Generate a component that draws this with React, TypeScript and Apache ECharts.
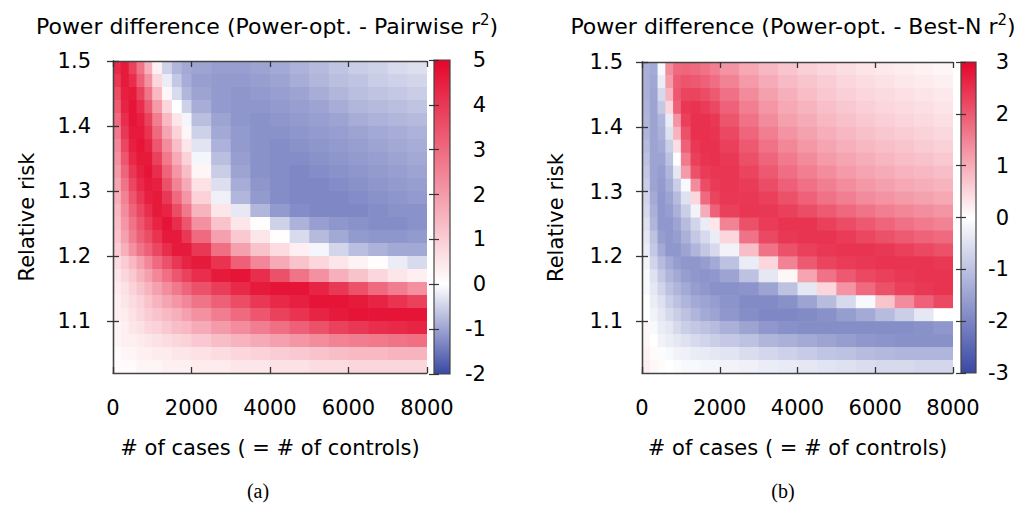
import React, { useEffect, useRef } from "react";
import * as echarts from "echarts";

const FONT = "DejaVu Sans";

// bin edges of the number of cases (x) and of the relative risk (y, top to bottom)
const xEdges = [0, 200, 400, 600, 800, 1000, 1250, 1500, 1750, 2000, 2500, 3000, 3500, 4000, 4500, 5000, 5500, 6000, 6500, 7000, 7500, 8000];
const rrEdges = [1.5, 1.48, 1.46, 1.44, 1.42, 1.4, 1.38, 1.36, 1.34, 1.32, 1.3, 1.28, 1.26, 1.24, 1.22, 1.2, 1.18, 1.16, 1.14, 1.12, 1.1, 1.08, 1.06, 1.04, 1.02];

const yTickValues = [1.1, 1.2, 1.3, 1.4, 1.5];
const cbTicksA = [-2, -1, 0, 1, 2, 3, 4, 5];
const cbTicksB = [-3, -2, -1, 0, 1, 2, 3];

const titleA = "Power difference (Power-opt. - Pairwise r{sup|2})";
const titleB = "Power difference (Power-opt. - Best-N r{sup|2})";
const xName = "# of cases ( = # of controls)";
const yName = "Relative risk";

// (a) Power-opt. - Pairwise r^2, rows from RR 1.49 (top) to 1.03 (bottom)
const diffA = [
  [4.3, 4.6, 3.8, 2.8, 1.6, 0.3, -0.5, -0.8, -0.95, -1.0, -1.05, -1.05, -1.0, -0.95, -0.85, -0.75, -0.65, -0.55, -0.5, -0.4, -0.35],
  [4.0, 4.6, 4.2, 3.2, 2.2, 0.8, -0.2, -0.6, -0.9, -1.05, -1.1, -1.1, -1.05, -1.0, -0.9, -0.8, -0.7, -0.65, -0.55, -0.5, -0.45],
  [3.6, 4.5, 4.6, 3.8, 2.8, 1.4, 0.2, -0.4, -0.8, -1.0, -1.1, -1.15, -1.1, -1.05, -1.0, -0.9, -0.8, -0.7, -0.65, -0.6, -0.55],
  [3.3, 4.4, 4.7, 4.2, 3.3, 2.0, 0.8, 0.0, -0.5, -0.9, -1.1, -1.15, -1.15, -1.1, -1.05, -1.0, -0.9, -0.8, -0.75, -0.7, -0.65],
  [3.0, 4.2, 4.7, 4.5, 3.8, 2.6, 1.4, 0.5, -0.1, -0.7, -1.0, -1.15, -1.2, -1.15, -1.1, -1.05, -1.0, -0.9, -0.85, -0.8, -0.75],
  [2.7, 4.0, 4.6, 4.6, 4.1, 3.0, 1.8, 0.9, 0.2, -0.5, -0.95, -1.1, -1.2, -1.2, -1.15, -1.1, -1.05, -1.0, -0.95, -0.9, -0.85],
  [2.4, 3.7, 4.5, 4.7, 4.4, 3.4, 2.3, 1.3, 0.5, -0.3, -0.85, -1.1, -1.2, -1.25, -1.2, -1.15, -1.1, -1.05, -1.0, -0.95, -0.9],
  [2.2, 3.4, 4.3, 4.6, 4.6, 3.8, 2.7, 1.7, 0.9, -0.1, -0.7, -1.05, -1.2, -1.25, -1.25, -1.2, -1.15, -1.1, -1.05, -1.0, -0.95],
  [2.0, 3.1, 4.0, 4.5, 4.7, 4.2, 3.1, 2.1, 1.3, 0.2, -0.55, -1.0, -1.2, -1.25, -1.3, -1.25, -1.2, -1.15, -1.1, -1.05, -1.0],
  [1.8, 2.8, 3.7, 4.3, 4.6, 4.5, 3.5, 2.5, 1.7, 0.6, -0.35, -0.9, -1.15, -1.25, -1.3, -1.3, -1.25, -1.2, -1.15, -1.1, -1.05],
  [1.6, 2.5, 3.4, 4.0, 4.5, 4.6, 4.0, 3.0, 2.1, 0.9, -0.15, -0.8, -1.1, -1.25, -1.3, -1.3, -1.3, -1.25, -1.2, -1.15, -1.1],
  [1.4, 2.3, 3.1, 3.7, 4.2, 4.6, 4.4, 3.6, 2.7, 1.5, 0.5, -0.25, -0.8, -1.1, -1.25, -1.3, -1.3, -1.3, -1.25, -1.2, -1.2],
  [1.3, 2.1, 2.8, 3.4, 3.9, 4.4, 4.7, 4.2, 3.4, 2.2, 1.2, 0.5, 0.05, -0.5, -0.85, -1.05, -1.15, -1.2, -1.25, -1.25, -1.2],
  [1.2, 1.9, 2.6, 3.2, 3.6, 4.1, 4.6, 4.6, 4.0, 3.0, 1.9, 1.1, 0.5, 0.05, -0.4, -0.75, -0.95, -1.1, -1.15, -1.15, -1.1],
  [1.0, 1.6, 2.2, 2.8, 3.2, 3.7, 4.2, 4.6, 4.6, 4.0, 2.9, 1.9, 1.2, 0.7, 0.3, -0.1, -0.45, -0.7, -0.85, -0.95, -0.95],
  [0.7, 1.0, 1.4, 1.9, 2.4, 3.0, 3.5, 4.0, 4.4, 4.6, 4.1, 3.2, 2.4, 1.7, 1.2, 0.8, 0.5, 0.25, 0.05, -0.2, -0.4],
  [0.5, 0.8, 1.1, 1.5, 1.9, 2.4, 2.9, 3.4, 3.8, 4.2, 4.6, 4.7, 4.2, 3.5, 2.8, 2.2, 1.6, 1.2, 0.8, 0.5, 0.3],
  [0.4, 0.6, 0.9, 1.2, 1.5, 1.9, 2.3, 2.7, 3.1, 3.5, 3.9, 4.3, 4.6, 4.7, 4.7, 4.4, 4.0, 3.5, 3.0, 2.6, 2.2],
  [0.3, 0.5, 0.7, 0.9, 1.2, 1.5, 1.8, 2.1, 2.4, 2.8, 3.2, 3.6, 4.0, 4.3, 4.5, 4.7, 4.7, 4.6, 4.4, 4.1, 3.8],
  [0.3, 0.4, 0.6, 0.8, 1.0, 1.2, 1.4, 1.6, 1.9, 2.2, 2.6, 3.0, 3.4, 3.8, 4.1, 4.4, 4.6, 4.7, 4.7, 4.7, 4.7],
  [0.2, 0.3, 0.5, 0.6, 0.8, 0.9, 1.1, 1.3, 1.4, 1.7, 2.0, 2.3, 2.6, 2.9, 3.2, 3.5, 3.8, 4.0, 4.2, 4.3, 4.4],
  [0.2, 0.3, 0.3, 0.4, 0.5, 0.6, 0.7, 0.8, 0.9, 1.1, 1.3, 1.5, 1.7, 1.9, 2.1, 2.3, 2.5, 2.6, 2.7, 2.8, 2.9],
  [0.1, 0.2, 0.2, 0.3, 0.3, 0.4, 0.4, 0.5, 0.5, 0.6, 0.7, 0.8, 0.9, 1.0, 1.1, 1.2, 1.3, 1.4, 1.4, 1.5, 1.5],
  [0.1, 0.1, 0.1, 0.2, 0.2, 0.2, 0.3, 0.3, 0.3, 0.4, 0.4, 0.5, 0.5, 0.6, 0.6, 0.7, 0.7, 0.8, 0.8, 0.8, 0.8],
];

// (b) Power-opt. - Best-N r^2, rows from RR 1.49 (top) to 1.03 (bottom)
const diffB = [
  [-1.3, -1.4, -0.1, 1.4, 1.8, 1.85, 1.8, 1.7, 1.55, 1.3, 1.05, 0.85, 0.7, 0.58, 0.48, 0.4, 0.33, 0.27, 0.22, 0.17, 0.12],
  [-1.3, -1.45, -0.3, 1.2, 1.95, 2.05, 2.0, 1.9, 1.75, 1.5, 1.22, 1.0, 0.83, 0.7, 0.6, 0.5, 0.42, 0.35, 0.29, 0.24, 0.19],
  [-1.3, -1.5, -0.6, 0.9, 2.0, 2.25, 2.25, 2.15, 2.0, 1.72, 1.4, 1.15, 0.95, 0.8, 0.68, 0.58, 0.5, 0.43, 0.37, 0.31, 0.26],
  [-1.25, -1.5, -0.9, 0.5, 1.9, 2.4, 2.45, 2.35, 2.2, 1.9, 1.55, 1.27, 1.05, 0.9, 0.77, 0.67, 0.58, 0.5, 0.44, 0.38, 0.32],
  [-1.2, -1.5, -1.2, -0.3, 1.3, 2.3, 2.5, 2.5, 2.4, 2.05, 1.7, 1.4, 1.15, 1.0, 0.86, 0.75, 0.66, 0.58, 0.51, 0.45, 0.39],
  [-1.2, -1.5, -1.3, -0.5, 0.9, 2.1, 2.5, 2.5, 2.45, 2.2, 1.85, 1.55, 1.3, 1.12, 0.97, 0.85, 0.75, 0.67, 0.6, 0.53, 0.47],
  [-1.1, -1.5, -1.4, -0.8, 0.4, 1.9, 2.4, 2.5, 2.5, 2.3, 2.0, 1.7, 1.45, 1.25, 1.09, 0.96, 0.86, 0.77, 0.7, 0.63, 0.56],
  [-1.0, -1.5, -1.5, -1.0, 0.0, 1.6, 2.3, 2.45, 2.5, 2.38, 2.12, 1.85, 1.6, 1.4, 1.22, 1.08, 0.97, 0.88, 0.8, 0.73, 0.66],
  [-0.9, -1.5, -1.6, -1.2, -0.4, 1.2, 2.1, 2.35, 2.42, 2.42, 2.25, 2.0, 1.75, 1.55, 1.37, 1.22, 1.1, 1.0, 0.92, 0.85, 0.78],
  [-0.8, -1.5, -1.65, -1.35, -0.8, -0.1, 1.4, 2.15, 2.35, 2.42, 2.35, 2.15, 1.92, 1.72, 1.54, 1.38, 1.25, 1.14, 1.05, 0.97, 0.9],
  [-0.7, -1.4, -1.7, -1.5, -1.1, -0.5, 0.5, 1.8, 2.25, 2.4, 2.4, 2.3, 2.1, 1.9, 1.7, 1.55, 1.4, 1.3, 1.2, 1.12, 1.05],
  [-0.6, -1.3, -1.7, -1.6, -1.3, -0.8, -0.2, 1.0, 1.9, 2.3, 2.42, 2.4, 2.3, 2.15, 1.98, 1.82, 1.68, 1.55, 1.45, 1.36, 1.28],
  [-0.5, -1.2, -1.7, -1.7, -1.5, -1.1, -0.7, -0.3, 0.3, 1.5, 2.1, 2.35, 2.45, 2.45, 2.3, 2.15, 2.0, 1.85, 1.72, 1.6, 1.5],
  [-0.4, -1.0, -1.6, -1.7, -1.6, -1.3, -0.9, -0.6, -0.3, 0.5, 1.7, 2.2, 2.4, 2.45, 2.45, 2.35, 2.22, 2.1, 1.98, 1.88, 1.8],
  [-0.3, -0.9, -1.4, -1.7, -1.7, -1.5, -1.2, -0.9, -0.6, -0.2, 0.8, 1.7, 2.1, 2.3, 2.4, 2.45, 2.45, 2.4, 2.3, 2.2, 2.1],
  [-0.2, -0.7, -1.1, -1.4, -1.6, -1.7, -1.7, -1.6, -1.4, -1.0, -0.3, 0.5, 1.5, 2.0, 2.25, 2.35, 2.4, 2.45, 2.45, 2.45, 2.4],
  [-0.1, -0.5, -0.9, -1.2, -1.4, -1.6, -1.7, -1.75, -1.7, -1.5, -1.0, -0.4, 0.1, 1.1, 1.7, 2.0, 2.2, 2.3, 2.4, 2.45, 2.45],
  [-0.1, -0.4, -0.7, -1.0, -1.2, -1.4, -1.6, -1.7, -1.8, -1.8, -1.75, -1.5, -1.0, -0.4, 0.5, 1.3, 1.8, 2.1, 2.3, 2.4, 2.45],
  [0.0, -0.3, -0.5, -0.8, -1.0, -1.2, -1.4, -1.5, -1.6, -1.75, -1.9, -1.9, -1.8, -1.5, -1.1, -0.6, -0.1, 0.7, 1.4, 1.9, 2.2],
  [0.0, -0.2, -0.4, -0.6, -0.8, -1.0, -1.2, -1.4, -1.5, -1.7, -1.85, -1.95, -1.95, -1.9, -1.8, -1.6, -1.4, -1.1, -0.8, -0.4, 0.0],
  [0.1, -0.1, -0.3, -0.4, -0.6, -0.8, -0.9, -1.0, -1.1, -1.3, -1.5, -1.7, -1.8, -1.85, -1.85, -1.85, -1.85, -1.85, -1.85, -1.8, -1.7],
  [0.1, 0.0, -0.2, -0.3, -0.4, -0.5, -0.6, -0.7, -0.8, -0.9, -1.0, -1.2, -1.3, -1.4, -1.5, -1.6, -1.7, -1.75, -1.8, -1.8, -1.8],
  [0.15, 0.05, -0.05, -0.1, -0.2, -0.25, -0.3, -0.35, -0.4, -0.45, -0.55, -0.65, -0.75, -0.85, -0.95, -1.0, -1.1, -1.15, -1.2, -1.2, -1.2],
  [0.2, 0.1, 0.05, 0.0, -0.05, -0.1, -0.1, -0.15, -0.15, -0.2, -0.25, -0.3, -0.35, -0.4, -0.45, -0.5, -0.55, -0.6, -0.6, -0.65, -0.65],
];

// palette end colours
const BLUE_END = [58, 72, 165];
const RED_END = [228, 6, 42];

function mixWhite(c: number[], f: number) {
  const ch = (k: number) => Math.round(255 + (c[k] - 255) * f);
  return `rgb(${ch(0)},${ch(1)},${ch(2)})`;
}
function palette(ticks: number[]) {
  const lo = ticks[0];
  const hi = ticks[ticks.length - 1];
  return ticks.map((v) => (v < 0 ? mixWhite(BLUE_END, v / lo) : mixWhite(RED_END, v / hi)));
}
function cells(rows: number[][]) {
  const out: number[][] = [];
  rows.forEach((row, i) =>
    row.forEach((v, j) => out.push([xEdges[j], xEdges[j + 1], rrEdges[i + 1], rrEdges[i], v]))
  );
  return out;
}

const renderCell = (_params: any, api: any) => {
  const tl = api.coord([api.value(0), api.value(3)]);
  const br = api.coord([api.value(1), api.value(2)]);
  return {
    type: "rect",
    shape: { x: tl[0], y: tl[1], width: br[0] - tl[0] + 0.7, height: br[1] - tl[1] + 0.7 },
    style: { fill: api.visual("color") },
  };
};

function colorbarRenderer(pal: string[]) {
  const n = pal.length;
  const stops = pal
    .slice()
    .reverse()
    .map((c, i) => ({ offset: i / (n - 1), color: c }));
  return (params: any) => {
    const cs = params.coordSys;
    return {
      type: "rect",
      shape: { x: cs.x, y: cs.y, width: cs.width, height: cs.height },
      style: {
        fill: new echarts.graphic.LinearGradient(0, 0, 0, 1, stops),
        stroke: "#444",
        lineWidth: 1.2,
      },
    };
  };
}

const axisLine = { show: true, lineStyle: { color: "#444", width: 1.3 } };
const tick = { show: true, inside: true, length: 6, lineStyle: { color: "#333", width: 1.3 } };
const label = { color: "#000", fontFamily: FONT, fontSize: 21 };
const nameStyle = { color: "#000", fontFamily: FONT, fontSize: 21 };

function xAxesFor(grid: number) {
  return [
    {
      type: "value", gridIndex: grid, min: 0, max: 8000, interval: 2000, position: "bottom", z: 5,
      axisLine, axisTick: tick, splitLine: { show: false },
      axisLabel: { ...label, margin: 24, formatter: (v: number) => String(v) },
      name: xName, nameLocation: "middle", nameGap: 64, nameTextStyle: nameStyle,
    },
    {
      type: "value", gridIndex: grid, min: 0, max: 8000, interval: 2000, position: "top", z: 5,
      axisLine, axisTick: tick, splitLine: { show: false }, axisLabel: { show: false },
    },
  ];
}
function yAxesFor(grid: number, labelMargin: number, nameGap: number) {
  return [
    {
      type: "value", gridIndex: grid, min: 1.02, max: 1.5, position: "left", z: 5,
      axisLine, axisTick: { ...tick, customValues: yTickValues }, splitLine: { show: false },
      axisLabel: { ...label, margin: labelMargin, customValues: yTickValues, formatter: (v: number) => v.toFixed(1) },
      name: yName, nameLocation: "middle", nameRotate: 90, nameGap, nameTextStyle: nameStyle,
    },
    {
      type: "value", gridIndex: grid, min: 1.02, max: 1.5, position: "right", z: 5,
      axisLine, axisTick: { ...tick, customValues: yTickValues }, splitLine: { show: false },
      axisLabel: { show: false },
    },
  ];
}
function cbAxes(grid: number, ticks: number[], margin: number) {
  const cbTick = { show: true, inside: true, length: 5, lineStyle: { color: "#333", width: 1.2 } };
  return [
    {
      type: "value", gridIndex: grid, min: ticks[0], max: ticks[ticks.length - 1], interval: 1, position: "right", z: 5,
      axisLine: { show: false }, axisTick: cbTick, splitLine: { show: false },
      axisLabel: { ...label, align: "right", margin },
    },
    {
      type: "value", gridIndex: grid, min: ticks[0], max: ticks[ticks.length - 1], interval: 1, position: "left", z: 5,
      axisLine: { show: false }, axisTick: cbTick, splitLine: { show: false }, axisLabel: { show: false },
    },
  ];
}

export default function App() {
  const ref = useRef<HTMLDivElement>(null);
  useEffect(() => {
    if (!ref.current) return;
    const chart = echarts.init(ref.current, null, { renderer: "svg" });
    const palA = palette(cbTicksA);
    const palB = palette(cbTicksB);
    const titleStyle = (text: string, x: number) => ({
      type: "text",
      x,
      y: 26,
      style: {
        text,
        fontFamily: FONT,
        fontSize: 22,
        lineHeight: 27,
        fill: "#000",
        align: "center",
        verticalAlign: "middle",
        rich: { sup: { fontFamily: FONT, fontSize: 15, verticalAlign: "top", fill: "#000" } },
      },
    });
    chart.setOption({
      animation: false,
      backgroundColor: "#fff",
      grid: [
        { left: 113, top: 61, width: 314, height: 312 },
        { left: 642, top: 62, width: 311, height: 311 },
        { left: 434, top: 60, width: 16, height: 314 },
        { left: 961, top: 62, width: 15, height: 311 },
      ],
      xAxis: [
        ...xAxesFor(0),
        ...xAxesFor(1),
        { type: "value", gridIndex: 2, min: 0, max: 1, show: false },
        { type: "value", gridIndex: 3, min: 0, max: 1, show: false },
      ],
      yAxis: [
        ...yAxesFor(0, 22, 76),
        ...yAxesFor(1, 19, 76),
        ...cbAxes(2, cbTicksA, 36),
        ...cbAxes(3, cbTicksB, 33),
      ],
      visualMap: [
        { type: "continuous", show: false, seriesIndex: 0, dimension: 4, min: -2, max: 5, inRange: { color: palA } },
        { type: "continuous", show: false, seriesIndex: 1, dimension: 4, min: -3, max: 3, inRange: { color: palB } },
      ],
      series: [
        { type: "custom", xAxisIndex: 0, yAxisIndex: 0, clip: true, encode: { x: [0, 1], y: [2, 3] }, data: cells(diffA), renderItem: renderCell },
        { type: "custom", xAxisIndex: 2, yAxisIndex: 2, clip: true, encode: { x: [0, 1], y: [2, 3] }, data: cells(diffB), renderItem: renderCell },
        { type: "custom", xAxisIndex: 4, yAxisIndex: 4, data: [[0, 0]], renderItem: colorbarRenderer(palA) },
        { type: "custom", xAxisIndex: 5, yAxisIndex: 6, data: [[0, 0]], renderItem: colorbarRenderer(palB) },
      ],
      graphic: [
        titleStyle(titleA, 267),
        titleStyle(titleB, 793),
        { type: "text", x: 258, y: 491, style: { text: "(a)", fontFamily: "Liberation Serif", fontSize: 20, fill: "#000", align: "center", verticalAlign: "middle" } },
        { type: "text", x: 783, y: 491, style: { text: "(b)", fontFamily: "Liberation Serif", fontSize: 20, fill: "#000", align: "center", verticalAlign: "middle" } },
      ],
    });
    return () => chart.dispose();
  }, []);
  return <div ref={ref} style={{ position: "fixed", left: 0, top: 0, width: 1029, height: 506 }} />;
}
